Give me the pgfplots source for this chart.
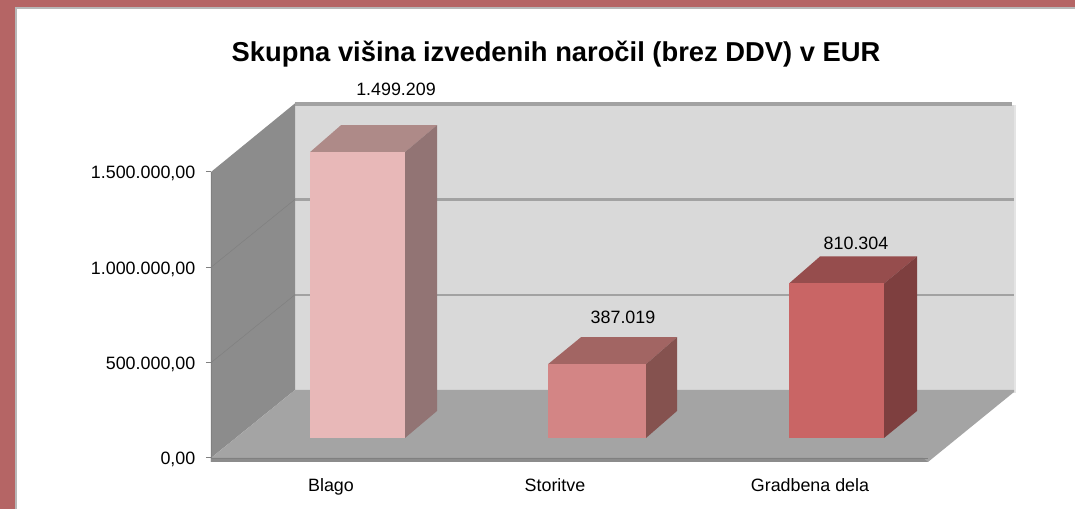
\documentclass[border=0pt]{standalone}
\usepackage{pgfplots}
\pgfplotsset{compat=1.18}
\usepackage{fontspec}
\setmainfont{Liberation Sans}
\definecolor{frame}{HTML}{B56565}
\definecolor{frameedge}{HTML}{B8B8B8}
\definecolor{backwall}{HTML}{D9D9D9}
\definecolor{sidewall}{HTML}{8C8C8C}
\definecolor{floorc}{HTML}{A4A4A4}
\definecolor{band}{HTML}{8C8C8C}
\definecolor{gridc}{HTML}{A2A2A2}
\definecolor{wallgrid}{HTML}{808080}
\definecolor{agF}{HTML}{E8B8B8}\definecolor{agT}{HTML}{AE8A88}\definecolor{agS}{HTML}{927474}
\definecolor{bgF}{HTML}{D38585}\definecolor{bgT}{HTML}{A26563}\definecolor{bgS}{HTML}{85524F}
\definecolor{cgF}{HTML}{C96565}\definecolor{cgT}{HTML}{964D4D}\definecolor{cgS}{HTML}{7E3F3F}
\newcommand{\lab}{\fontsize{13.4}{16}\selectfont}
\begin{document}
\begin{tikzpicture}
\begin{axis}[
  scale only axis, width=537.75pt, height=214.5pt,
  xmin=211, xmax=928, ymin=0, ymax=1500,
  clip=false, axis on top,
  axis x line*=bottom, axis y line*=left,
  axis line style={color=gray, line width=0.6pt, -},
  tick align=outside, major tick length=3.75pt,
  tick style={color=gray, line width=0.75pt},
  ytick={0,500,1000,1500},
  yticklabels={0{,}00,{500.000,00},{1.000.000,00},{1.500.000,00}},
  yticklabel style={font=\lab, xshift=-4.5pt, yshift=-1.2pt},
  xtick={331,555,810},
  xticklabels={Blago,Storitve,Gradbena dela},
  xticklabel style={font=\lab, yshift=-8pt},
  x tick style={draw=none},
  every tick label/.append style={text=black},
]
% page and frame
\addplot[draw=none, fill=frame] coordinates {(0,-267.5)(1075,-267.5)(1075,2402.1)(0,2402.1)} -- cycle;
\addplot[draw=none, fill=frameedge] coordinates {(15,-267.5)(1075,-267.5)(1075,2365.4)(15,2365.4)} -- cycle;
\addplot[draw=none, fill=white] coordinates {(17,-267.5)(1075,-267.5)(1075,2355)(17,2355)} -- cycle;
% back wall
\addplot[draw=none, fill=backwall!70!white] coordinates {(295,340)(1016,340)(1016,1852)(295,1852)} -- cycle;
\addplot[draw=none, fill=backwall] coordinates {(295,340)(1014,340)(1014,1852)(295,1852)} -- cycle;
\addplot[draw=none, fill=gridc] coordinates {(295,1846)(1012,1846)(1012,1867)(295,1867)} -- cycle;
\addplot[draw=none, fill=gridc] coordinates {(295,1350)(1014,1350)(1014,1361)(295,1361)} -- cycle;
\addplot[draw=none, fill=gridc] coordinates {(295,851)(1014,851)(1014,862)(295,862)} -- cycle;
% left wall
\addplot[draw=none, fill=sidewall] coordinates {(211,0)(295,356.6)(295,1860)(211,1500)} -- cycle;
\addplot[color=wallgrid, line width=0.4pt] coordinates {(211,1000)(295,1356.6)};
\addplot[color=wallgrid, line width=0.4pt] coordinates {(211,500)(295,856.6)};
% floor
\addplot[draw=none, fill=floorc] coordinates {(211,0)(295,356.6)(1014,356.6)(1014,346)(928,-21)(211,-21)} -- cycle;
\addplot[draw=none, fill=band] coordinates {(211,0)(923,0)(928,-21)(211,-21)} -- cycle;
% Blago = 1499.209 thousand
\addplot[draw=none, fill=agT] coordinates {(310,1604.104)(341,1745.7)(437,1745.7)(405,1604.104)} -- cycle;
\addplot[draw=none, fill=agS] coordinates {(405,104.895)(437,246.5)(437,1745.7)(405,1604.104)} -- cycle;
\addplot[draw=none, fill=agF] coordinates {(310,104.895)(405,104.895)(405,1604.104)(310,1604.104)} -- cycle;
% Storitve = 387.019 thousand
\addplot[draw=none, fill=bgT] coordinates {(548,491.914)(581,633.5)(677,633.5)(646,491.914)} -- cycle;
\addplot[draw=none, fill=bgS] coordinates {(646,104.895)(677,246.5)(677,633.5)(646,491.914)} -- cycle;
\addplot[draw=none, fill=bgF] coordinates {(548,104.895)(646,104.895)(646,491.914)(548,491.914)} -- cycle;
% Gradbena dela = 810.304 thousand
\addplot[draw=none, fill=cgT] coordinates {(789,915.199)(820,1056.8)(917,1056.8)(884,915.199)} -- cycle;
\addplot[draw=none, fill=cgS] coordinates {(884,104.895)(917,246.5)(917,1056.8)(884,915.199)} -- cycle;
\addplot[draw=none, fill=cgF] coordinates {(789,104.895)(884,104.895)(884,915.199)(789,915.199)} -- cycle;
% texts
\node[font=\lab] at (axis cs:396,1932) {1.499.209};
\node[font=\lab] at (axis cs:623,738) {387.019};
\node[font=\lab] at (axis cs:856,1128) {810.304};
\node[font=\bfseries\fontsize{20.5}{24}\selectfont] at (axis cs:556,2118) {Skupna višina izvedenih naročil (brez DDV) v EUR};
\path[use as bounding box] (axis cs:0,-267.5) rectangle (axis cs:1075,2402.1);
\end{axis}
\end{tikzpicture}
\end{document}
